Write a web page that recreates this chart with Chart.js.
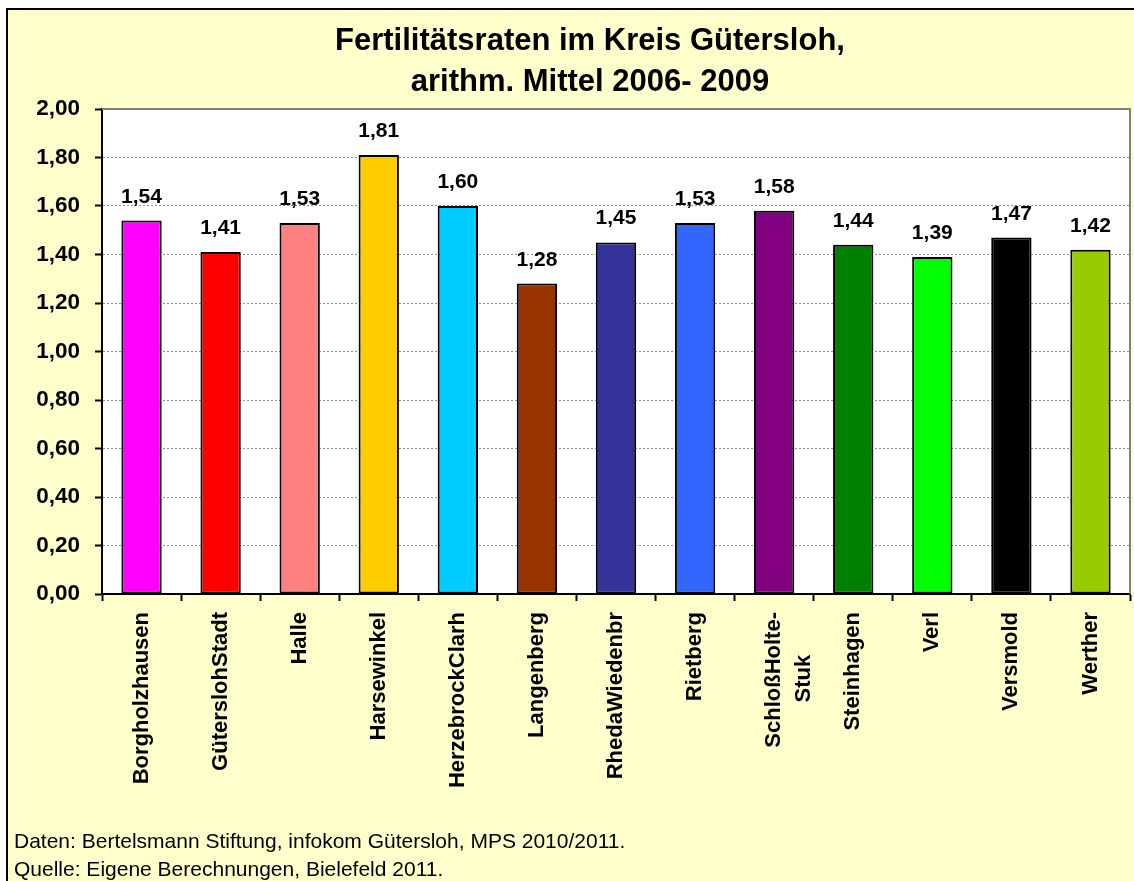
<!DOCTYPE html>
<html>
<head>
<meta charset="utf-8">
<script src="https://cdn.jsdelivr.net/npm/chart.js@4.4.1/dist/chart.umd.min.js"></script>
<style>
  html, body { margin: 0; padding: 0; background: #ffffff; }
  #wrap { position: absolute; left: 0; top: 0; width: 1134px; height: 881px; }
</style>
</head>
<body>
<div id="wrap"><canvas id="c" width="1134" height="881"></canvas></div>
<script>
const titleLines = ['Fertilitätsraten im Kreis Gütersloh,', 'arithm. Mittel 2006- 2009'];
const categories = ['Borgholzhausen', 'GüterslohStadt', 'Halle', 'Harsewinkel', 'HerzebrockClarh', 'Langenberg', 'RhedaWiedenbr', 'Rietberg', ['SchloßHolte-', 'Stuk\u00A0\u00A0\u00A0\u00A0\u00A0\u00A0\u00A0'], 'Steinhagen', 'Verl', 'Versmold', 'Werther'];
const values = [1.54, 1.41, 1.53, 1.81, 1.60, 1.28, 1.45, 1.53, 1.58, 1.44, 1.39, 1.47, 1.42];
const barColors = ['#FF00FF', '#FF0000', '#FF8080', '#FFCC00', '#00CCFF', '#993300', '#333399', '#3366FF', '#800080', '#008000', '#00FF00', '#000000', '#99CC00'];
const yTicks = { min: 0, max: 2, step: 0.2 };
const footerLines = ['Daten: Bertelsmann Stiftung, infokom Gütersloh, MPS 2010/2011.', 'Quelle: Eigene Berechnungen, Bielefeld 2011.'];

const FONT = "'Liberation Sans', Arial, sans-serif";
const fmt = v => v.toFixed(2).replace('.', ',');

const backgroundPlugin = {
  id: 'bg',
  beforeDraw(chart) {
    const ctx = chart.ctx, a = chart.chartArea;
    ctx.save();
    ctx.fillStyle = '#ffffff';
    ctx.fillRect(0, 0, chart.width, chart.height);
    ctx.fillStyle = '#FFFFCC';
    ctx.fillRect(7, 9, chart.width - 7, chart.height - 9);
    ctx.fillStyle = '#000000';
    ctx.fillRect(6, 8, 2, chart.height - 8);
    ctx.fillRect(6, 8, chart.width - 6, 2);
    ctx.fillStyle = '#ffffff';
    ctx.fillRect(a.left, a.top, a.right - a.left, a.bottom - a.top);
    // title
    ctx.fillStyle = '#000000';
    ctx.font = 'bold 31px ' + FONT;
    ctx.textAlign = 'center';
    ctx.textBaseline = 'alphabetic';
    ctx.fillText(titleLines[0], 590, 50);
    ctx.fillText(titleLines[1], 590, 91);
    ctx.restore();
  },
  beforeDatasetsDraw(chart) {
    const ctx = chart.ctx, a = chart.chartArea;
    ctx.save();
    ctx.strokeStyle = '#808080';
    ctx.lineWidth = 2;
    ctx.beginPath();
    ctx.moveTo(a.left, a.top);
    ctx.lineTo(a.right, a.top);
    ctx.lineTo(a.right, a.bottom);
    ctx.stroke();
    ctx.restore();
  },
  afterDraw(chart) {
    const ctx = chart.ctx;
    ctx.save();
    ctx.fillStyle = '#000000';
    ctx.font = '21px ' + FONT;
    ctx.textAlign = 'left';
    ctx.textBaseline = 'alphabetic';
    ctx.fillText(footerLines[0], 14, 848);
    ctx.fillText(footerLines[1], 14, 876);
    ctx.restore();
  }
};

const valueLabelPlugin = {
  id: 'valueLabels',
  afterDatasetsDraw(chart) {
    const ctx = chart.ctx;
    const meta = chart.getDatasetMeta(0);
    ctx.save();
    ctx.fillStyle = '#000000';
    ctx.font = 'bold 21px ' + FONT;
    ctx.textAlign = 'center';
    ctx.textBaseline = 'alphabetic';
    meta.data.forEach((el, i) => {
      ctx.fillText(fmt(values[i]), el.x, el.y - 18);
    });
    ctx.restore();
  }
};

new Chart(document.getElementById('c'), {
  type: 'bar',
  data: {
    labels: categories,
    datasets: [{
      data: values,
      backgroundColor: barColors,
      borderColor: '#000000',
      borderWidth: 2,
      borderSkipped: false,
      barPercentage: 0.51,
      categoryPercentage: 1.0
    }]
  },
  options: {
    responsive: false,
    devicePixelRatio: 1,
    animation: false,
    layout: { padding: { left: 0, right: 4, top: 109, bottom: 0 } },
    plugins: {
      legend: { display: false },
      tooltip: { enabled: false },
      title: { display: false }
    },
    scales: {
      x: {
        offset: true,
        grid: { display: true, offset: true, drawOnChartArea: false, drawTicks: true, tickLength: 7, tickColor: '#000000', tickWidth: 2 },
        border: { display: true, color: '#000000', width: 2 },
        ticks: {
          color: '#000000',
          font: { family: FONT, size: 22, weight: 'bold', lineHeight: 1.35 },
          maxRotation: 90, minRotation: 90, autoSkip: false, padding: 11
        },
        afterFit(scale) { scale.height = 287; }
      },
      y: {
        min: yTicks.min, max: yTicks.max,
        grid: { color: '#909090', lineWidth: 1, drawTicks: true, tickLength: 7, tickColor: '#000000', tickWidth: 2, tickBorderDash: [] },
        border: { display: true, color: '#000000', width: 2, dash: [2, 2] },
        ticks: {
          stepSize: yTicks.step,
          color: '#000000',
          padding: 15,
          font: { family: FONT, size: 22.5, weight: 'bold' },
          callback: v => fmt(v)
        },
        afterFit(scale) { scale.width = 102; }
      }
    }
  },
  plugins: [backgroundPlugin, valueLabelPlugin]
});
</script>
</body>
</html>
